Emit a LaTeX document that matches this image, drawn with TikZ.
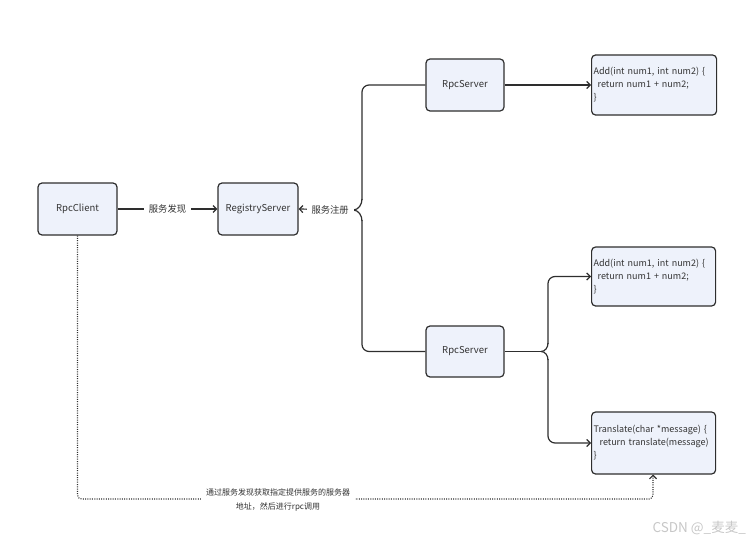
\documentclass[tikz,border=0pt]{standalone}
\usepackage{fontspec}
\setmainfont{Noto Sans CJK SC}
\usetikzlibrary{arrows.meta}
\definecolor{boxfill}{HTML}{EEF2FB}
\definecolor{boxdraw}{HTML}{2E2E2E}
\definecolor{txt}{HTML}{333333}
\tikzset{
  box/.style={draw=boxdraw, fill=boxfill, rounded corners=4pt, line width=1.2pt,
    minimum width=#1, inner sep=0pt, text=txt, font=\fontsize{9.5}{11}\selectfont},
  codebox/.style={draw=boxdraw, fill=boxfill, rounded corners=4pt, line width=1.2pt,
    text=txt, font=\fontsize{9}{13}\selectfont, align=left, anchor=west, inner sep=0pt},
  conn/.style={draw=boxdraw, line width=1.2pt},
  arr/.style={-{Straight Barb[length=3.5pt,width=7pt,line width=1.2pt]}},
  lbl/.style={fill=white, text=txt, font=\fontsize{9.3}{11}\selectfont, inner xsep=5pt, inner ysep=3pt},
  dotline/.style={draw=boxdraw, line width=1.1pt, dash pattern=on 1pt off 1.3pt},
}
\begin{document}
\begin{tikzpicture}[x=1pt,y=-1pt]
\useasboundingbox (0,0) rectangle (752,543);
% main boxes
\node[box=79pt, minimum height=52pt] (client) at (77.5,209) {RpcClient};
\node[box=80pt, minimum height=52pt] (reg) at (258,209) {RegistryServer};
\node[box=78pt, minimum height=52pt] (srv1) at (465,85) {RpcServer};
\node[box=78pt, minimum height=51pt] (srv2) at (465,351.5) {RpcServer};
% code boxes
\node[codebox, minimum width=125pt, minimum height=60pt, text width=121pt] (add1) at (591,85)
  {Add(int num1, int num2) \{\\\hspace*{4pt}return num1 + num2;\\\}};
\node[codebox, minimum width=124pt, minimum height=59pt, text width=120pt] (add2) at (591,276.5)
  {Add(int num1, int num2) \{\\\hspace*{4pt}return num1 + num2;\\\}};
\node[codebox, minimum width=124pt, minimum height=62pt, text width=120pt] (trans) at (591,443)
  {Translate(char *message) \{\\\hspace*{6pt}return translate(message)\\\}};
% client -> registry
\draw[conn, arr] (client.east) -- node[lbl]{服务发现} (reg.west);
% brace left
\coordinate (tip) at (353,210);
\draw[conn, rounded corners=7pt] (srv1.west) -- (362,85) -- (362,200);
\draw[conn] (362,199) to[out=-90,in=0] (tip) to[out=0,in=90] (362,221);
\draw[conn, rounded corners=7pt] (362,220) -- (362,351.5) -- (srv2.west);
\draw[conn, arr] (tip) -- node[lbl, pos=0.42]{服务注册} (reg.east);
% srv1 -> add1
\draw[conn, arr] (srv1.east) -- (add1.west);
% bottom brace
\coordinate (tip2) at (541,351.5);
\draw[conn] (srv2.east) -- (tip2);
\draw[conn] (tip2) to[out=0,in=-90] (548,343);
\draw[conn] (tip2) to[out=0,in=90] (548,360);
\draw[conn, arr, rounded corners=7pt] (548,344) -- (548,276.5) -- (add2.west);
\draw[conn, arr, rounded corners=7pt] (548,359) -- (548,443) -- (trans.west);
% dotted path
\draw[dotline, arr, rounded corners=4pt] (client.south) -- (77.5,499) -- (653,499) -- (653,474.5);
\node[fill=white, text=txt, font=\fontsize{8}{14}\selectfont, align=center, inner xsep=5pt, inner ysep=2pt] (note) at (278,500)
  {通过服务发现获取指定提供服务的服务器\\地址，然后进行rpc调用};
% watermark
\node[anchor=east, text=black!22, font=\fontsize{13.5}{15}\selectfont, inner sep=0pt] (wm) at (746,528) {CSDN @\_麦麦\_};
\end{tikzpicture}
\end{document}
